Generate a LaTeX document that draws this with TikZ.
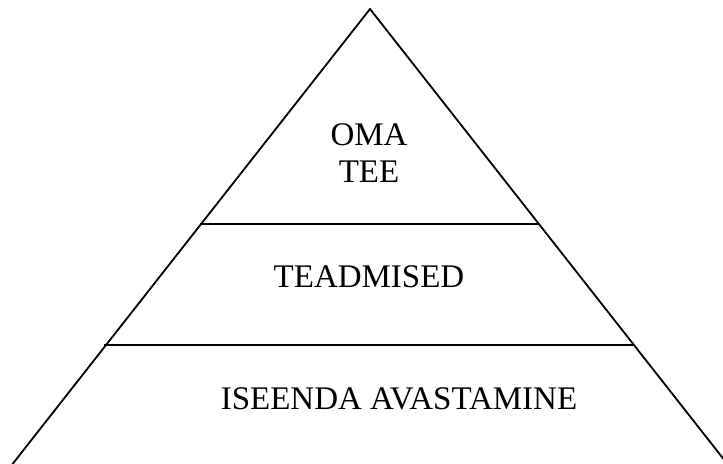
\documentclass[tikz,border=0pt]{standalone}
\usepackage{fontspec}
\setmainfont{Liberation Serif}
\begin{document}
\begin{tikzpicture}[x=0.5pt,y=-0.5pt,
  edge/.style={line width=0.9pt,line join=miter},
  label/.style={font=\fontsize{16.5pt}{18.5pt}\selectfont,inner sep=0pt,align=center}]
\useasboundingbox (0,0) rectangle (723,464);
\coordinate (apex) at (370,9);
\coordinate (bl) at (11,466);
\coordinate (br) at (729,466);
\coordinate (l1) at (200,224);
\coordinate (r1) at (539,224);
\coordinate (l2) at (104,345);
\coordinate (r2) at (634,345);
\draw[edge] (bl) -- (apex) -- (br);
\draw[edge] (l1) -- (r1);
\draw[edge] (l2) -- (r2);
\node[label] (top) at (369,153.5) {OMA\\TEE};
\node[label,anchor=base] (mid) at (369,288) {TEADMISED};
\node[label,anchor=base] (bot) at (399,410) {ISEENDA AVASTAMINE};
\end{tikzpicture}
\end{document}
